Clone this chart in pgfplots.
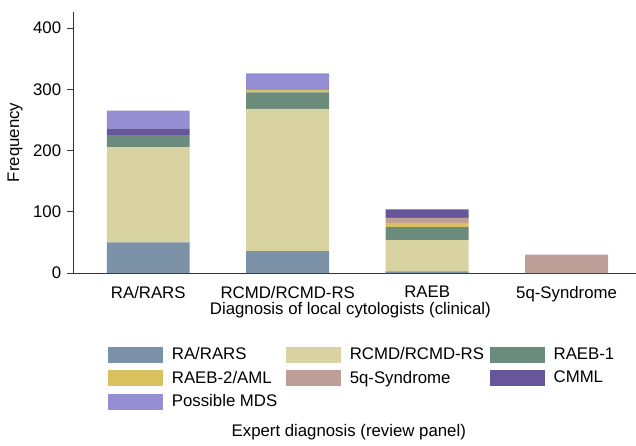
\documentclass[border=0pt]{standalone}
\usepackage{pgfplots}
\pgfplotsset{compat=1.18}
\usepackage{fontspec}
\setmainfont{Liberation Sans}
\definecolor{cRA}{RGB}{123,145,168}
\definecolor{cRCMD}{RGB}{216,211,160}
\definecolor{cRAEBa}{RGB}{107,140,125}
\definecolor{cRAEBb}{RGB}{217,193,96}
\definecolor{cFiveq}{RGB}{192,158,152}
\definecolor{cCMML}{RGB}{104,86,154}
\definecolor{cPMDS}{RGB}{150,142,210}
\newcommand{\myfont}{\fontsize{16.8bp}{20bp}\selectfont}
\begin{document}
\myfont
\begin{tikzpicture}
\begin{axis}[
  at={(0,0)}, anchor=south west,
  scale only axis, width=563bp, height=261.6bp,
  ybar stacked, bar width=83bp,
  xmin=-0.54, xmax=3.495, ymin=0, ymax=426.5,
  xtick={0,1,2,3}, xticklabels={RA/RARS,RCMD/RCMD-RS,RAEB,5q-Syndrome},
  ytick={0,100,200,300,400},
  axis x line*=bottom, axis y line*=left,
  x tick style={draw=none},
  y tick style={black!80, line width=0.8pt},
  tick align=outside, major tick length=6bp,
  axis line style={black!80, line width=0.8pt},
  /pgf/number format/assume math mode=true,
  tick label style={font=\myfont},
  x tick label style={yshift=-1bp},
  label style={font=\myfont},
  xlabel={Diagnosis of local cytologists (clinical)},
  ylabel={Frequency},
  xlabel style={at={(axis description cs:0.493,-0.143)}, anchor=center},
  ylabel style={at={(axis description cs:-0.103,0.5)}, anchor=center},
  legend columns=3,
  legend cell align=left,
  legend image code/.code={\fill[#1] (0bp,-8bp) rectangle (55bp,8bp);},
  legend style={at={(rel axis cs:0,0)}, anchor=north west, xshift=35bp, yshift=-73.7bp,
    draw=none, inner sep=0pt, outer sep=0pt, column sep=0pt, row sep=7.5bp,
    font=\myfont,
    nodes={inner sep=0pt},
    /tikz/every odd column/.append style={column sep=9bp}},
  every axis plot/.append style={draw=none},
]
\addplot[fill=cRA] coordinates {(0,50) (1,36) (2,3) (3,0)};
\addlegendentry{\makebox[114bp][l]{RA/RARS}}
\addplot[fill=cRCMD] coordinates {(0,155) (1,232) (2,51) (3,0)};
\addlegendentry{\makebox[140bp][l]{RCMD/RCMD-RS}}
\addplot[fill=cRAEBa] coordinates {(0,20) (1,27) (2,21) (3,0)};
\addlegendentry{RAEB-1}
\addplot[fill=cRAEBb] coordinates {(0,0) (1,4) (2,7) (3,0)};
\addlegendentry{\makebox[114bp][l]{RAEB-2/AML}}
\addplot[fill=cFiveq] coordinates {(0,0) (1,0) (2,8) (3,30)};
\addlegendentry{\makebox[140bp][l]{5q-Syndrome}}
\addplot[fill=cCMML] coordinates {(0,10) (1,0) (2,14) (3,0)};
\addlegendentry{CMML}
\addplot[fill=cPMDS] coordinates {(0,30) (1,27) (2,0) (3,0)};
\addlegendentry{\makebox[114bp][l]{Possible MDS}}
\end{axis}
\node at (276bp,-159.5bp) {Expert diagnosis (review panel)};
\path[use as bounding box] (-73bp,-167.7bp) rectangle (563bp,273.3bp);
\end{tikzpicture}
\end{document}
